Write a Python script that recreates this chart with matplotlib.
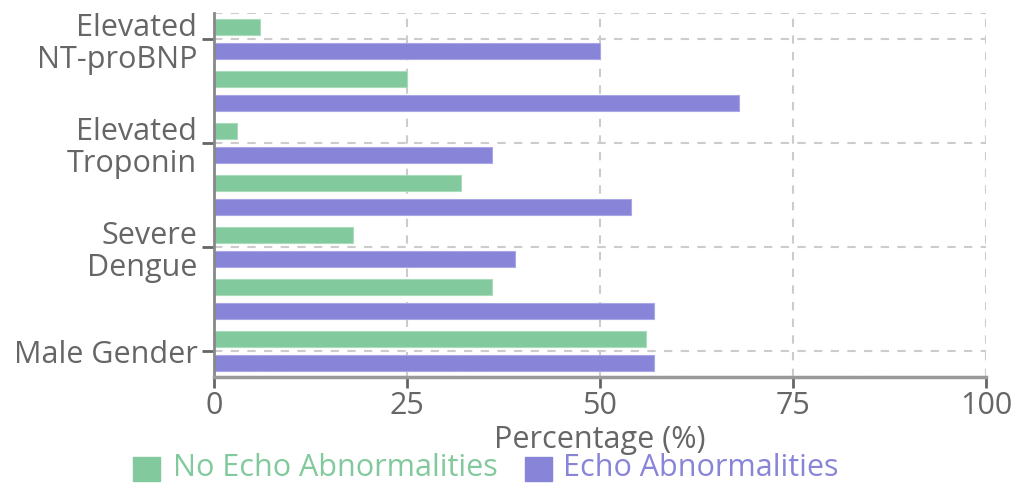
import matplotlib
matplotlib.use("Agg")
import matplotlib.pyplot as plt
from matplotlib.patches import Rectangle
import numpy as np

# Rows top to bottom; only every other row carries a visible label
categories = ["Elevated\nNT-proBNP", "", "Elevated\nTroponin", "", "Severe\nDengue", "", "Male Gender"]
no_echo = [6, 25, 3, 32, 18, 36, 56]
echo = [50, 68, 36, 54, 39, 57, 57]
x_ticks = [0, 25, 50, 75, 100]
series_names = ["No Echo Abnormalities", "Echo Abnormalities"]

GREEN = "#82ca9d"
PURPLE = "#8884d8"
TEXT = "#666666"
GRID = "#cccccc"
FS = 22

plt.rcParams["font.family"] = ["Open Sans", "DejaVu Sans"]

W, H = 1020, 487
fig = plt.figure(figsize=(W / 100, H / 100), dpi=100)
ax = fig.add_axes([214 / W, (H - 377) / H, 772 / W, 364 / H])

y = np.arange(len(categories))
bar_h = 0.31
offset = 0.236
ax.barh(y - offset, no_echo, height=bar_h, color=GREEN, zorder=3,
        edgecolor="#a8dcbc", linewidth=0.8)
ax.barh(y + offset, echo, height=bar_h, color=PURPLE, zorder=3,
        edgecolor="#aaa7e6", linewidth=0.8)

ax.set_xlim(0, 100)
ax.set_ylim(len(categories) - 0.5, -0.5)

# dashed grid
dash = (0, (4, 4))
labelled = [i for i, c in enumerate(categories) if c]
for yy in labelled + [-0.5, len(categories) - 0.5]:
    ax.axhline(yy, color=GRID, lw=1.5, ls=dash, zorder=1)
for xx in x_ticks[1:]:
    ax.axvline(xx, color=GRID, lw=1.5, ls=dash, zorder=1)

for side in ["top", "right"]:
    ax.spines[side].set_visible(False)
ax.spines["left"].set_color("#888888")
ax.spines["left"].set_linewidth(2)
ax.spines["bottom"].set_color("#999999")
ax.spines["bottom"].set_linewidth(2.5)
ax.spines["left"].set_zorder(4)
ax.spines["bottom"].set_zorder(4)

ax.set_yticks(labelled)
ax.set_yticklabels([categories[i] for i in labelled], fontsize=FS, color=TEXT,
                   linespacing=1.1)
ax.set_xticks(x_ticks)
ax.set_xticklabels([str(v) for v in x_ticks], fontsize=FS, color=TEXT)
ax.tick_params(axis="y", length=9, width=2, color="#666666", pad=3)
ax.tick_params(axis="x", length=8, width=2, color="#666666", pad=2)

ax.set_xlabel("Percentage (%)", fontsize=FS, color=TEXT, labelpad=3)

# legend drawn along the bottom
fy = (H - 468) / H
items = [(133, 173, GREEN, series_names[0]), (525, 563, PURPLE, series_names[1])]
for sx, tx, col, name in items:
    fig.patches.append(Rectangle((sx / W, (H - 481) / H), 27 / W, 24 / H,
                                 transform=fig.transFigure, color=col))
    fig.text(tx / W, fy, name, color=col, fontsize=FS, va="center", ha="left")

fig.savefig("out.png", dpi=100)
